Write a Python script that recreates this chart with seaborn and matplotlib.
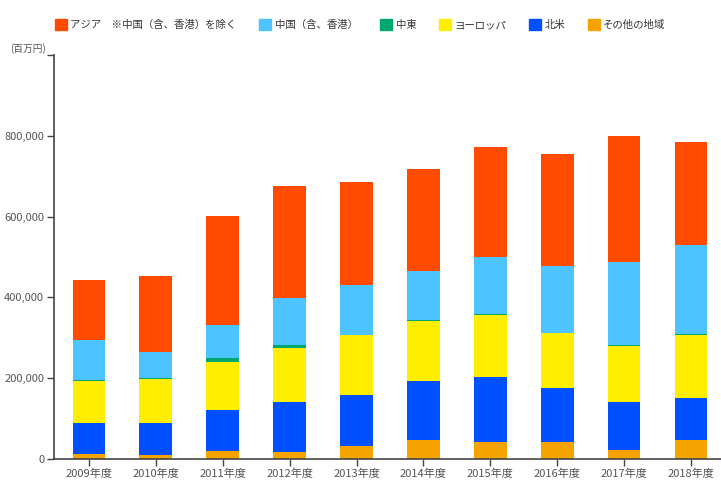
import matplotlib.pyplot as plt
import seaborn as sns
import pandas as pd
import numpy as np

# 年度
years = ['2009年度', '2010年度', '2011年度', '2012年度', '2013年度',
         '2014年度', '2015年度', '2016年度', '2017年度', '2018年度']

# 地域別の値 (百万円), bottom -> top
other = [13000, 9000, 21000, 18000, 31000, 47000, 43000, 41000, 23000, 47000]
north_america = [77000, 79000, 100000, 123000, 128000, 147000, 160000, 134000, 118000, 104000]
europe = [104000, 110000, 118000, 134000, 147000, 148000, 154000, 136000, 140000, 155000]
middle_east = [2000, 2000, 10000, 7000, 2000, 2000, 2000, 2000, 2000, 4000]
china = [99000, 64000, 82000, 117000, 122000, 122000, 141000, 164000, 204000, 220000]
asia = [147000, 190000, 271000, 278000, 255000, 253000, 273000, 278000, 312000, 255000]

labels = ['アジア　※中国（含、香港）を除く', '中国（含、香港）', '中東', 'ヨーロッパ', '北米', 'その他の地域']
colors = ['#ff4a00', '#4dc3ff', '#00a870', '#ffee00', '#0050ff', '#f5a300']

sns.set_style("white")
plt.rcParams['font.family'] = ['Noto Sans CJK JP', 'DejaVu Sans']

df = pd.DataFrame({'year': years, 'other': other, 'na': north_america, 'eu': europe,
                   'me': middle_east, 'cn': china, 'asia': asia})
stack_order = ['other', 'na', 'eu', 'me', 'cn', 'asia']
cum = df[stack_order].cumsum(axis=1)

fig = plt.figure(figsize=(7.21, 4.82), dpi=100)
ax = fig.add_axes([0.0749, 0.0477, 0.9251, 0.838])

# draw cumulative totals from the top series down so they overlap as a stack
legend_cols = dict(zip(['asia', 'cn', 'me', 'eu', 'na', 'other'], colors))
for col in reversed(stack_order):
    sns.barplot(x=df['year'], y=cum[col], color=legend_cols[col], width=0.49,
                saturation=1, ax=ax, linewidth=0)

ax.set_xlim(-0.523, 9.45)
ax.set_ylim(0, 1000000)
ax.set_yticks(np.arange(0, 1000001, 200000))
ax.set_yticklabels(['0', '200,000', '400,000', '600,000', '800,000', ''])
ax.set_xlabel('')
ax.set_ylabel('')
sns.despine(ax=ax)
for s in ['left', 'bottom']:
    ax.spines[s].set_color('#444444')
    ax.spines[s].set_linewidth(1.2)
ax.tick_params(axis='both', direction='out', length=5, width=1, color='#444444',
               labelsize=8, labelcolor='#555555', pad=2, left=True, bottom=True)

handles = [plt.Rectangle((0, 0), 1, 1, color=c) for c in colors]
fig.legend(handles, labels, loc='upper left', bbox_to_anchor=(0.063, 0.981), ncol=6,
           frameon=False, fontsize=7.5, handlelength=1.15, handleheight=1.35,
           handletextpad=0.35, columnspacing=2.15, labelcolor='#333333')
fig.text(0.014, 0.893, '(百万円)', fontsize=7, color='#555555')

fig.savefig('out.png', dpi=100)
